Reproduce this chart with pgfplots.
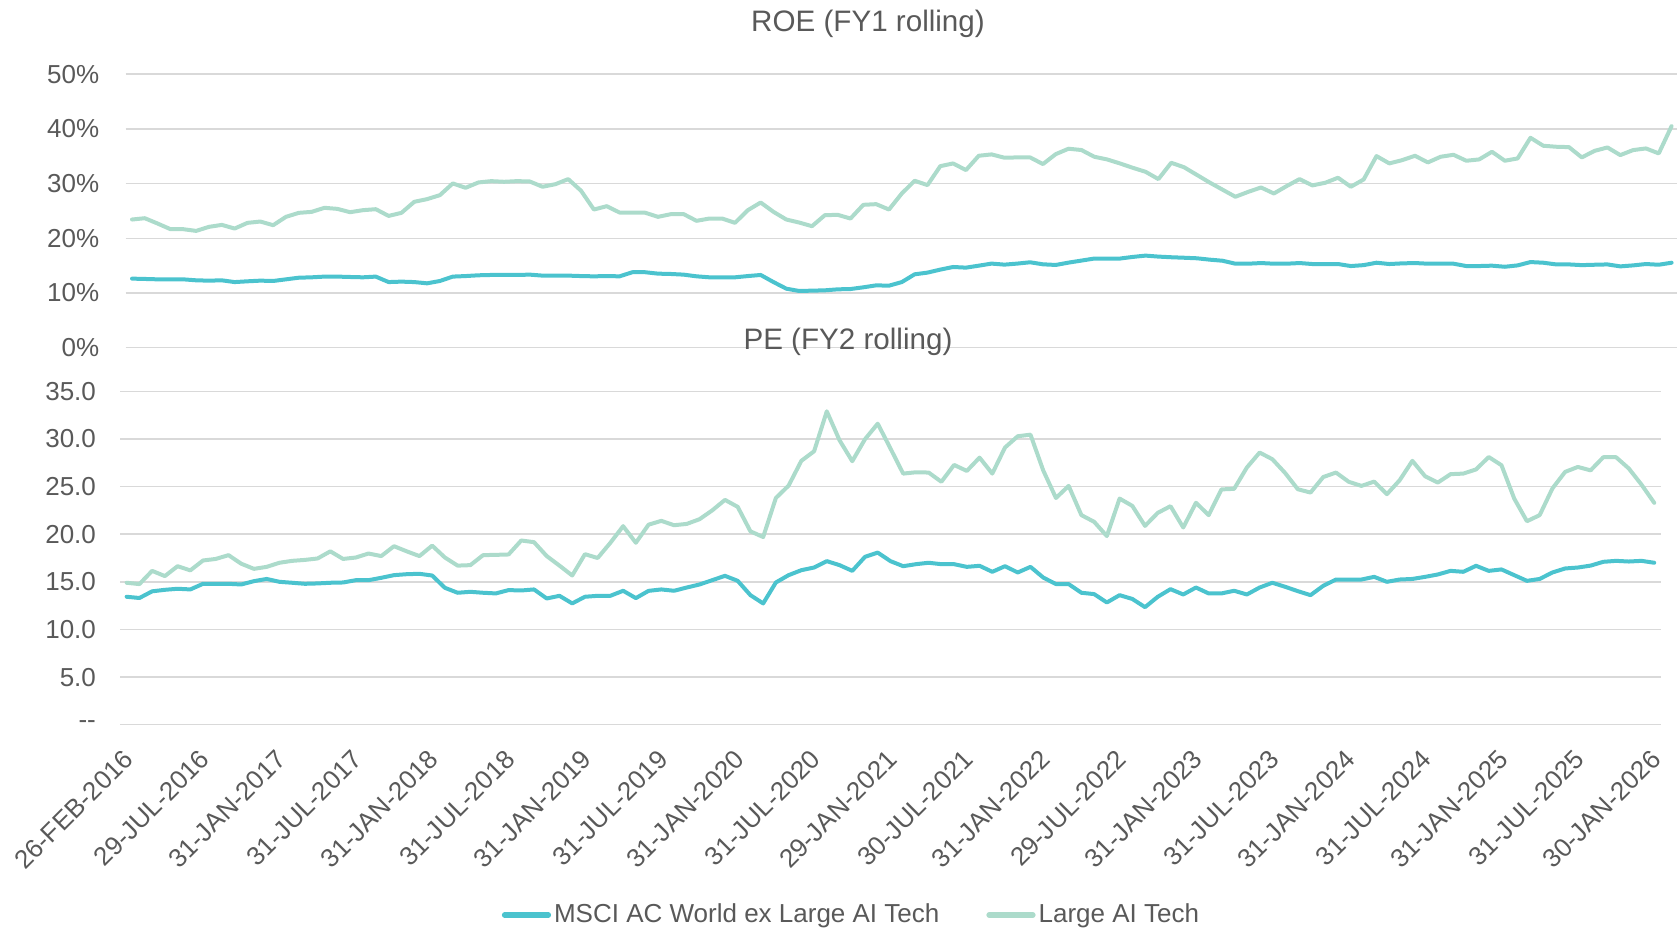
\documentclass[border=0pt]{standalone}
\usepackage{fontspec}
\setmainfont{Liberation Sans}
\usepackage{pgfplots}
\usepackage{pgfplotstable}
\pgfplotsset{compat=1.18}
\definecolor{msci}{RGB}{75,195,206}
\definecolor{lai}{RGB}{172,219,203}
\definecolor{gridc}{RGB}{217,217,217}
\definecolor{txt}{RGB}{89,89,89}

% ROE (FY1 rolling), % values
\pgfplotstableread{
i ms la
0 12.63 23.44
1 12.57 23.68
2 12.5 22.7
3 12.5 21.67
4 12.5 21.67
5 12.32 21.36
6 12.26 22.1
7 12.32 22.46
8 12.0 21.79
9 12.14 22.83
10 12.26 23.07
11 12.2 22.4
12 12.5 23.93
13 12.8 24.66
14 12.87 24.84
15 13.0 25.58
16 13.0 25.39
17 12.93 24.78
18 12.87 25.15
19 13.0 25.33
20 12.0 24.1
21 12.08 24.66
22 12.0 26.68
23 11.77 27.17
24 12.2 27.9
25 13.0 30.04
26 13.1 29.24
27 13.24 30.22
28 13.3 30.46
29 13.3 30.34
30 13.3 30.46
31 13.36 30.4
32 13.18 29.43
33 13.18 29.9
34 13.18 30.83
35 13.1 28.7
36 13.05 25.27
37 13.1 25.88
38 13.05 24.72
39 13.8 24.72
40 13.8 24.68
41 13.54 23.93
42 13.48 24.42
43 13.36 24.42
44 13.05 23.2
45 12.87 23.62
46 12.87 23.62
47 12.87 22.83
48 13.1 25.15
49 13.3 26.55
50 12.0 24.84
51 10.79 23.44
52 10.37 22.89
53 10.43 22.22
54 10.49 24.23
55 10.67 24.3
56 10.73 23.62
57 11.04 26.13
58 11.4 26.25
59 11.34 25.27
60 12.0 28.2
61 13.42 30.53
62 13.73 29.73
63 14.28 33.2
64 14.76 33.7
65 14.64 32.48
66 15.0 35.1
67 15.38 35.35
68 15.19 34.74
69 15.38 34.8
70 15.62 34.8
71 15.25 33.58
72 15.13 35.4
73 15.56 36.39
74 15.93 36.15
75 16.3 34.92
76 16.3 34.43
77 16.3 33.7
78 16.6 32.9
79 16.84 32.17
80 16.66 30.83
81 16.54 33.82
82 16.45 33.0
83 16.35 31.6
84 16.1 30.2
85 15.9 28.9
86 15.36 27.6
87 15.36 28.5
88 15.48 29.3
89 15.36 28.2
90 15.36 29.56
91 15.48 30.83
92 15.3 29.68
93 15.3 30.16
94 15.3 31.08
95 14.93 29.43
96 15.1 30.77
97 15.54 35.04
98 15.3 33.7
99 15.42 34.3
100 15.48 35.1
101 15.36 33.88
102 15.36 34.92
103 15.36 35.28
104 14.93 34.19
105 14.93 34.43
106 15.0 35.83
107 14.8 34.19
108 15.05 34.61
109 15.66 38.39
110 15.54 36.93
111 15.23 36.75
112 15.23 36.68
113 15.1 34.8
114 15.17 36.0
115 15.23 36.62
116 14.87 35.22
117 15.05 36.14
118 15.3 36.44
119 15.17 35.53
120 15.54 40.52
}\roetable

% PE (FY2 rolling)
\pgfplotstableread{
i ms la
0 13.43 14.9
1 13.3 14.76
2 14.0 16.15
3 14.16 15.6
4 14.27 16.64
5 14.2 16.2
6 14.79 17.24
7 14.79 17.4
8 14.79 17.8
9 14.72 16.9
10 15.07 16.36
11 15.3 16.57
12 15.0 17.0
13 14.9 17.2
14 14.79 17.3
15 14.83 17.45
16 14.9 18.2
17 14.93 17.4
18 15.17 17.55
19 15.17 17.97
20 15.42 17.7
21 15.7 18.74
22 15.8 18.2
23 15.84 17.7
24 15.66 18.8
25 14.37 17.55
26 13.85 16.7
27 13.95 16.75
28 13.85 17.8
29 13.78 17.83
30 14.13 17.87
31 14.09 19.34
32 14.2 19.16
33 13.25 17.7
34 13.53 16.7
35 12.73 15.66
36 13.43 17.9
37 13.53 17.5
38 13.53 19.1
39 14.06 20.84
40 13.29 19.1
41 14.05 21.0
42 14.2 21.4
43 14.06 20.94
44 14.4 21.08
45 14.72 21.57
46 15.17 22.5
47 15.63 23.6
48 15.1 22.87
49 13.6 20.3
50 12.73 19.7
51 14.93 23.8
52 15.7 25.1
53 16.22 27.7
54 16.5 28.7
55 17.17 32.9
56 16.75 29.86
57 16.15 27.66
58 17.62 29.97
59 18.07 31.6
60 17.17 29.0
61 16.64 26.36
62 16.85 26.5
63 17.0 26.47
64 16.85 25.5
65 16.85 27.27
66 16.57 26.64
67 16.68 28.04
68 16.05 26.36
69 16.64 29.1
70 15.98 30.28
71 16.57 30.45
72 15.45 26.7
73 14.76 23.8
74 14.76 25.07
75 13.85 22.0
76 13.71 21.3
77 12.83 19.8
78 13.6 23.74
79 13.2 22.97
80 12.34 20.87
81 13.43 22.24
82 14.23 22.94
83 13.67 20.7
84 14.4 23.3
85 13.78 22.0
86 13.78 24.7
87 14.06 24.76
88 13.67 27.0
89 14.4 28.57
90 14.9 27.87
91 14.48 26.43
92 14.02 24.72
93 13.6 24.37
94 14.58 26.0
95 15.24 26.47
96 15.24 25.5
97 15.24 25.07
98 15.52 25.52
99 15.0 24.2
100 15.24 25.66
101 15.3 27.7
102 15.52 26.08
103 15.77 25.42
104 16.15 26.3
105 16.05 26.36
106 16.68 26.8
107 16.15 28.1
108 16.3 27.24
109 15.7 23.74
110 15.1 21.36
111 15.3 22.0
112 15.98 24.8
113 16.4 26.54
114 16.5 27.06
115 16.7 26.7
116 17.1 28.08
117 17.2 28.08
118 17.13 26.9
119 17.2 25.2
120 17.0 23.29
}\petable

\pgfplotsset{
  mystyle/.style={
    scale only axis,
    anchor=south west,
    xmin=-0.5, xmax=120.5,
    ymin=0,
    axis line style={draw=none},
    major tick length=0pt,
    ymajorgrids,
    grid style={gridc, line width=0.8pt},
    tick label style={font=\fontsize{13}{15.5}\selectfont, text=txt},
    yticklabel style={anchor=east, inner sep=0pt},
    clip=false,
  },
  msline/.style={msci, line width=2pt, line join=round, line cap=round},
  laline/.style={lai, line width=2pt, line join=round, line cap=round},
}

\begin{document}
\begin{tikzpicture}
\useasboundingbox (0,0) rectangle (838.5pt,465.5pt);

% ROE panel
\begin{axis}[mystyle,
  at={(62.8pt,291.65pt)},
  width=776.2pt, height=136.7pt,
  ymax=50,
  xtick=\empty,
  ytick={0,10,20,30,40,50},
  yticklabels={0\%,10\%,20\%,30\%,40\%,50\%},
  yticklabel style={xshift=-13pt},
]
\addplot[msline] table[x=i,y=ms]{\roetable};
\addplot[laline] table[x=i,y=la]{\roetable};
\end{axis}

% PE panel
\begin{axis}[mystyle,
  at={(60.15pt,103.15pt)},
  width=770.15pt, height=166.7pt,
  ymax=35,
  ytick={0,5,10,15,20,25,30,35},
  yticklabels={-{}-,5.0,10.0,15.0,20.0,25.0,30.0,35.0},
  yticklabel style={xshift=-12pt},
  xtick={0,6,...,120},
  xticklabels={26-FEB-2016,29-JUL-2016,31-JAN-2017,31-JUL-2017,31-JAN-2018,31-JUL-2018,31-JAN-2019,31-JUL-2019,31-JAN-2020,31-JUL-2020,29-JAN-2021,30-JUL-2021,31-JAN-2022,29-JUL-2022,31-JAN-2023,31-JUL-2023,31-JAN-2024,31-JUL-2024,31-JAN-2025,31-JUL-2025,30-JAN-2026},
  xticklabel style={anchor=east, inner sep=0pt, xshift=1pt, yshift=-15pt, rotate=45},
  legend style={at={(0.475,-0.571)}, anchor=center, draw=none, fill=none,
    font=\fontsize{13}{15.5}\selectfont, text=txt, legend columns=2,
    /tikz/every even column/.append style={column sep=22pt},
    nodes={inner sep=1.5pt}},
  legend image code/.code={\draw[#1, line width=2.6pt, line cap=round] (0pt,0pt) -- (22pt,0pt);},
]
\addplot[msline] table[x=i,y=ms]{\petable};
\addlegendentry{MSCI AC World ex Large AI Tech}
\addplot[laline] table[x=i,y=la]{\petable};
\addlegendentry{Large AI Tech}
\end{axis}

\node[font=\fontsize{14.8}{17}\selectfont, text=txt] at (434pt,453.4pt) {ROE (FY1 rolling)};
\node[font=\fontsize{14.8}{17}\selectfont, text=txt] at (424pt,294.4pt) {PE (FY2 rolling)};
\end{tikzpicture}
\end{document}
